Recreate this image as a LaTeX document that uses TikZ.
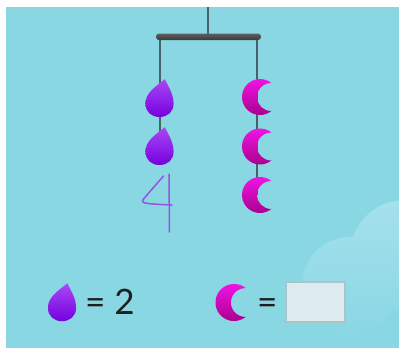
\documentclass[tikz,border=0pt]{standalone}
\usepackage{fontspec}
\setmainfont{Lato}
\begin{document}
\begin{tikzpicture}[x=1pt,y=-1pt]
  \definecolor{sky}{RGB}{138,215,228}
  \definecolor{cloudtop}{RGB}{164,225,236}
  \definecolor{dropTop}{RGB}{168,72,246}
  \definecolor{dropBot}{RGB}{118,0,222}
  \definecolor{moonTop}{RGB}{244,20,232}
  \definecolor{moonBot}{RGB}{168,0,140}
  \definecolor{cord}{RGB}{72,98,104}
  \definecolor{ink}{RGB}{150,82,226}
  \definecolor{boxfill}{RGB}{221,235,239}
  \definecolor{boxline}{RGB}{168,197,203}
  \tikzset{
    cordline/.style={draw=cord, line width=1.4pt},
    % teardrop: origin at its widest point, tip up and a little right
    pics/waterdrop/.style={code={
      \begin{scope}[xscale=0.97, yscale=1.22]
      \shade[top color=dropTop, bottom color=dropBot]
        (5.5,-21) .. controls (9,-15) and (14.5,-9) .. (14.5,-1)
        .. controls (14.5,6) and (8,10) .. (0,10)
        .. controls (-8,10) and (-14.5,6) .. (-14.5,-1)
        .. controls (-14.5,-9) and (-6,-14) .. (5.5,-21) -- cycle;
      \end{scope}
    }},
    % crescent opening to the right: outer arc, then inner arc back
    pics/crescent/.style={code={
      \shade[top color=moonTop, bottom color=moonBot]
        (11.32,-14) arc[start angle=-51, end angle=-309, radius=18]
        arc[start angle=88.7, end angle=271.3, radius=14] -- cycle;
    }},
    eqtext/.style={font=\fontsize{35}{40}\selectfont, text=black!88, inner sep=0pt, anchor=base west}
  }
  \useasboundingbox (0,0) rectangle (399,348);
  % paper and sky
  \fill[white] (0,0) rectangle (399,348);
  \fill[sky] (6,7) rectangle (399,348);
  % soft cloud in the corner
  \begin{scope}
    \clip (6,7) rectangle (399,348);
    \shade[top color=cloudtop, bottom color=sky]
      (350,285) circle (48) (405,255) circle (55);
  \end{scope}

  % mobile: hanger, bar and hanging points
  \coordinate (hook) at (208,7);
  \coordinate (barmid) at (208,36.5);
  \coordinate (barL) at (160,37);
  \coordinate (barR) at (257,37);
  \coordinate (d1) at (159.5,104.8);
  \coordinate (d2) at (159.5,152.8);
  \coordinate (m1) at (260,97);
  \coordinate (m2) at (260,146.5);
  \coordinate (m3) at (260,195);

  \draw[cordline] (hook) -- (barmid);
  \draw[cordline] (barL) -- (barL |- d2);
  \draw[cordline] (barR) -- (barR |- m3);
  \shade[top color=black!62, bottom color=black!78, rounded corners=3pt]
    (156,33.5) rectangle (261,40);

  \pic at (d1) {waterdrop};
  \pic at (d2) {waterdrop};
  \pic at (m1) {crescent};
  \pic at (m2) {crescent};
  \pic at (m3) {crescent};

  % handwritten answer
  \draw[ink, line width=1.5pt, line cap=round, line join=round]
    (163.5,176) .. controls (154,187) and (145,197) .. (142.5,200.5)
    .. controls (140.5,203.5) and (150,204) .. (172,205);
  \draw[ink, line width=1.5pt, line cap=round] (169,174) -- (169.5,232);

  % equations
  \pic at (62,309) {waterdrop};
  \node[eqtext] (eq1) at (85,314) {= 2};
  \pic[scale=1.03] at (234,302.5) {crescent};
  \node[eqtext] (eq2) at (257,314) {=};
  \node[draw=boxline, fill=boxfill, line width=1.5pt, minimum width=59pt,
        minimum height=40pt, inner sep=0pt] (ans) at (315.5,302) {};
\end{tikzpicture}
\end{document}
